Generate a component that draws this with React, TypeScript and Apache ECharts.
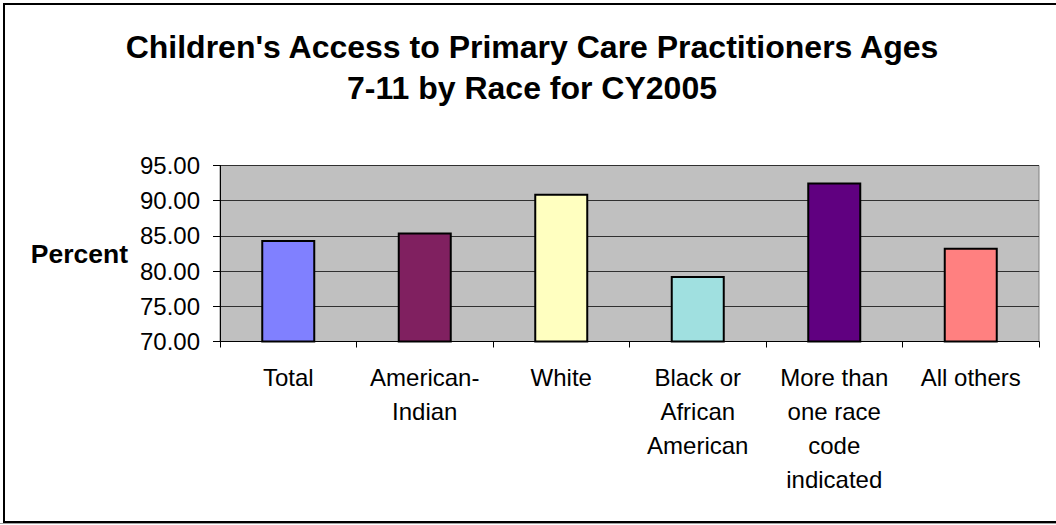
import React, { useEffect, useRef } from "react";
import * as echarts from "echarts";

const titleLines = [
  "Children's Access to Primary Care Practitioners Ages",
  "7-11 by Race for CY2005",
];
const categories = [
  "Total",
  "American-\nIndian",
  "White",
  "Black or\nAfrican\nAmerican",
  "More than\none race\ncode\nindicated",
  "All others",
];
const values = [84.4, 85.5, 91.0, 79.3, 92.6, 83.3];
const barColors = ["#8080FF", "#802060", "#FFFFC0", "#A0E0E0", "#600080", "#FF8080"];
const yMin = 70;
const yMax = 95;
const yStep = 5;
const yAxisName = "Percent";

const FONT = "'Liberation Sans', Arial, Helvetica, sans-serif";

export default function App() {
  const ref = useRef<HTMLDivElement>(null);
  useEffect(() => {
    if (!ref.current) return;
    const chart = echarts.init(ref.current, undefined, { renderer: "svg" });
    chart.setOption({
      animation: false,
      backgroundColor: "#ffffff",
      textStyle: { fontFamily: FONT },
      title: {
        text: titleLines.join("\n"),
        left: 527,
        top: 21,
        textAlign: "center",
        textStyle: {
          fontFamily: FONT,
          fontSize: 32,
          fontWeight: "bold",
          color: "#000",
          lineHeight: 41,
        },
      },
      graphic: [
        {
          type: "rect",
          shape: { x: 4, y: 4, width: 1070, height: 518 },
          style: { fill: "none", stroke: "#000", lineWidth: 2 },
          silent: true,
        },
        {
          type: "line",
          shape: { x1: 0, y1: 523.5, x2: 1056, y2: 523.5 },
          style: { stroke: "#a0a0a0", lineWidth: 1 },
          silent: true,
        },
      ],
      grid: {
        left: 220,
        right: 17,
        top: 165.5,
        bottom: 183.5,
        show: true,
        backgroundColor: "#C0C0C0",
        borderColor: "#808080",
        borderWidth: 1,
      },
      xAxis: {
        type: "category",
        data: categories,
        axisLine: { show: true, lineStyle: { color: "#000", width: 1 } },
        axisTick: { show: true, length: 6, lineStyle: { color: "#000" } },
        axisLabel: {
          interval: 0,
          margin: 19,
          fontSize: 24,
          lineHeight: 34,
          color: "#000",
          fontFamily: FONT,
          align: "center",
        },
        splitLine: { show: false },
      },
      yAxis: {
        type: "value",
        min: yMin,
        max: yMax,
        interval: yStep,
        name: yAxisName,
        nameLocation: "middle",
        nameRotate: 0,
        nameGap: 92,
        nameTextStyle: {
          fontFamily: FONT,
          fontSize: 26.5,
          fontWeight: "bold",
          color: "#000",
          align: "right",
          verticalAlign: "middle",
        },
        axisLine: { show: true, lineStyle: { color: "#000", width: 1 } },
        axisTick: { show: true, length: 7, lineStyle: { color: "#000" } },
        axisLabel: {
          margin: 20,
          fontSize: 24,
          color: "#000",
          fontFamily: FONT,
          formatter: (v: number) => v.toFixed(2),
        },
        splitLine: { show: true, lineStyle: { color: "#303030", width: 1 } },
      },
      series: [
        {
          type: "bar",
          data: values.map((v, i) => ({ value: v, itemStyle: { color: barColors[i] } })),
          barWidth: 54,
          itemStyle: { borderColor: "#000", borderWidth: 2 },
        },
      ],
    });
    return () => chart.dispose();
  }, []);
  return (
    <div
      ref={ref}
      style={{ position: "fixed", left: 0, top: 0, width: 1056, height: 525 }}
    />
  );
}
